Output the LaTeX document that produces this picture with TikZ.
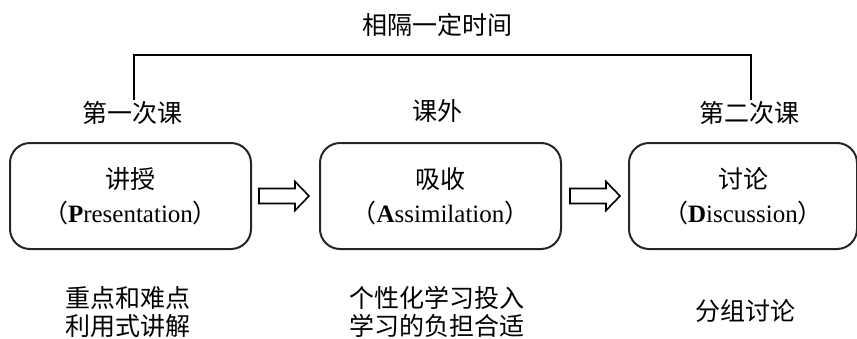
\documentclass[tikz,border=0pt]{standalone}
\usepackage{fontspec}
\setmainfont{Liberation Serif}
\newfontfamily\cjk{Noto Sans CJK SC}
\usetikzlibrary{positioning,calc}
\tikzset{
    %Define style for the phase boxes
    phase/.style={
           rectangle,
           rounded corners=10pt,
           draw=black!85, line width=1pt,
           minimum width=120.5pt,
           minimum height=53pt,
           align=center,
           font=\fontsize{12.5}{17}\selectfont\cjk},
    %Define style for the labels over the boxes
    stage/.style={
           inner sep=0pt,
           font=\fontsize{12.5}{15}\selectfont\cjk},
    %Define style for the notes under the boxes
    note/.style={
           inner sep=0pt,
           align=center,
           font=\fontsize{12.5}{14}\selectfont\cjk},
    % Define hollow arrow style
    hollow/.style={
           draw=black, line width=0.8pt,
           fill=white},
    bracket/.style={
           draw=black, line width=1.2pt}
}
% hollow block arrow after a box, #2 = gap in px
\newcommand{\blockarrow}[2]{%
  \draw[hollow] ($(#1.east)+(#2,7.5)$) -- ++(36,0) -- ++(0,7) -- ++(14,-14.5)
    -- ++(-14,-14.5) -- ++(0,7) -- ++(-36,0) -- cycle;}

\begin{document}
\begin{tikzpicture}[x=0.5pt,y=-0.5pt,node distance=33.5pt]
\useasboundingbox (0,0) rectangle (857,338);
\node[phase](present) at (130.5,196){讲授\\（{\rmfamily\textbf{P}resentation}）};
\node[phase, right=of present](assim){吸收\\（{\rmfamily\textbf{A}ssimilation}）};
\node[phase, right=33pt of assim, minimum width=114pt](discuss){讨论\\（{\rmfamily\textbf{D}iscussion}）};
\blockarrow{present}{7}
\blockarrow{assim}{8}
\node[stage](first) at (132,113){第一次课};
\node[stage](outside) at (437,111){课外};
\node[stage](second) at (749,113){第二次课};
\coordinate (gapl) at (134,100);
\coordinate (gapr) at (751,100);
\node[stage](interval) at (437,25){相隔一定时间};
\draw[bracket] (gapl) |- (interval.south |- 0,55) -| (gapr);
\node[note](note1) at (128,312){重点和难点\\利用式讲解};
\node[note](note2) at (437,312){个性化学习投入\\学习的负担合适};
\node[note](note3) at (745,311){分组讨论};
\end{tikzpicture}
\end{document}
